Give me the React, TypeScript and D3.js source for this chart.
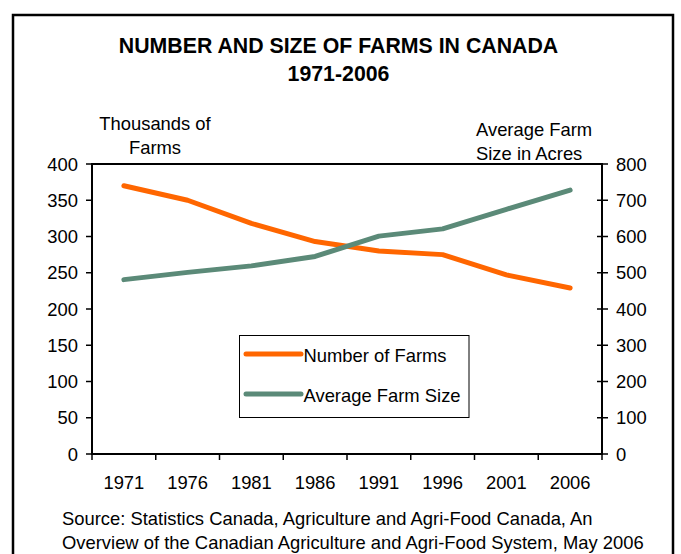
import React from "react";
import * as d3 from "d3";

// Census years
const years = ["1971", "1976", "1981", "1986", "1991", "1996", "2001", "2006"];
// Number of farms, thousands (left axis)
const farmCounts = [370, 350, 318, 293, 280, 275, 247, 229];
// Average farm size, acres (right axis)
const farmSizes = [481, 501, 519, 545, 601, 621, 675, 728];

const leftTicks = [0, 50, 100, 150, 200, 250, 300, 350, 400];
const rightTicks = [0, 100, 200, 300, 400, 500, 600, 700, 800];

const titleLines = ["NUMBER AND SIZE OF FARMS IN CANADA", "1971-2006"];
const leftAxisTitle = ["Thousands of", "Farms"];
const rightAxisTitle = ["Average Farm", "Size in Acres"];
const sourceLines = [
  "Source: Statistics Canada, Agriculture and Agri-Food Canada, An",
  "Overview of the Canadian Agriculture and Agri-Food System, May 2006",
];
const seriesNames = ["Number of Farms", "Average Farm Size"];
const seriesColors = ["#FF6600", "#5B8A78"];

const W = 681;
const H = 554;
const plot = { left: 92, right: 602, top: 164, bottom: 454 };
const font = "'Liberation Sans', Arial, Helvetica, sans-serif";
const fs = 18.4;

export default function App() {
  const x = d3
    .scaleBand<string>()
    .domain(years)
    .range([plot.left, plot.right])
    .padding(0);
  const yL = d3.scaleLinear().domain([0, 400]).range([plot.bottom, plot.top]);
  const yR = d3.scaleLinear().domain([0, 800]).range([plot.bottom, plot.top]);
  const cx = (y: string) => (x(y) as number) + x.bandwidth() / 2;

  const lineL = d3
    .line<number>()
    .x((_, i) => cx(years[i]))
    .y((d) => yL(d));
  const lineR = d3
    .line<number>()
    .x((_, i) => cx(years[i]))
    .y((d) => yR(d));

  const boundaries = years.map((y) => x(y) as number).concat([plot.right]);

  return (
    <svg
      width={W}
      height={H}
      style={{ position: "absolute", left: 0, top: 0, background: "#fff" }}
      fontFamily={font}
    >
      <rect x={0} y={0} width={W} height={H} fill="#fff" />
      {/* outer frame */}
      <rect x={13} y={15} width={660} height={H + 20} fill="none" stroke="#000" strokeWidth={2.5} />

      {/* title */}
      {titleLines.map((t, i) => (
        <text
          key={t}
          x={338.5}
          y={52.5 + i * 28.5}
          textAnchor="middle"
          fontSize={21.3}
          fontWeight="bold"
          fill="#000"
        >
          {t}
        </text>
      ))}

      {/* axis titles */}
      {leftAxisTitle.map((t, i) => (
        <text key={t} x={155} y={130 + i * 23.5} textAnchor="middle" fontSize={fs} fill="#000">
          {t}
        </text>
      ))}
      {rightAxisTitle.map((t, i) => (
        <text key={t} x={476} y={135.5 + i * 24} textAnchor="start" fontSize={fs} fill="#000">
          {t}
        </text>
      ))}

      {/* plot frame */}
      <rect
        x={plot.left}
        y={plot.top}
        width={plot.right - plot.left}
        height={plot.bottom - plot.top}
        fill="none"
        stroke="#000"
        strokeWidth={2}
      />

      {/* left axis ticks and labels */}
      {leftTicks.map((v) => (
        <g key={"l" + v}>
          <line x1={plot.left - 6} x2={plot.left} y1={yL(v)} y2={yL(v)} stroke="#000" strokeWidth={1.5} />
          <text x={78} y={yL(v)} dy="0.36em" textAnchor="end" fontSize={fs} fill="#000">
            {v}
          </text>
        </g>
      ))}

      {/* right axis ticks and labels */}
      {rightTicks.map((v) => (
        <g key={"r" + v}>
          <line x1={plot.right - 5} x2={plot.right + 6} y1={yR(v)} y2={yR(v)} stroke="#000" strokeWidth={1.5} />
          <text x={616} y={yR(v)} dy="0.36em" textAnchor="start" fontSize={fs} fill="#000">
            {v}
          </text>
        </g>
      ))}

      {/* category ticks and labels */}
      {boundaries.map((b, i) => (
        <line key={"b" + i} x1={b} x2={b} y1={plot.bottom} y2={plot.bottom + 6} stroke="#000" strokeWidth={1.5} />
      ))}
      {years.map((y) => (
        <text key={y} x={cx(y)} y={488.5} textAnchor="middle" fontSize={fs} fill="#000">
          {y}
        </text>
      ))}

      {/* series */}
      <path
        d={lineL(farmCounts) as string}
        fill="none"
        stroke={seriesColors[0]}
        strokeWidth={5}
        strokeLinejoin="round"
        strokeLinecap="round"
      />
      <path
        d={lineR(farmSizes) as string}
        fill="none"
        stroke={seriesColors[1]}
        strokeWidth={5}
        strokeLinejoin="round"
        strokeLinecap="round"
      />

      {/* legend */}
      <rect x={239.5} y={335.5} width={229.5} height={82} fill="#fff" stroke="#000" strokeWidth={1} />
      {seriesNames.map((n, i) => (
        <g key={n}>
          <line
            x1={246}
            x2={301}
            y1={354 + i * 40}
            y2={354 + i * 40}
            stroke={seriesColors[i]}
            strokeWidth={5}
            strokeLinecap="round"
          />
          <text x={303.5} y={361.5 + i * 40} fontSize={fs} fill="#000">
            {n}
          </text>
        </g>
      ))}

      {/* source note */}
      {sourceLines.map((t, i) => (
        <text key={i} x={62} y={525 + i * 24} fontSize={fs} fill="#000">
          {t}
        </text>
      ))}
    </svg>
  );
}
